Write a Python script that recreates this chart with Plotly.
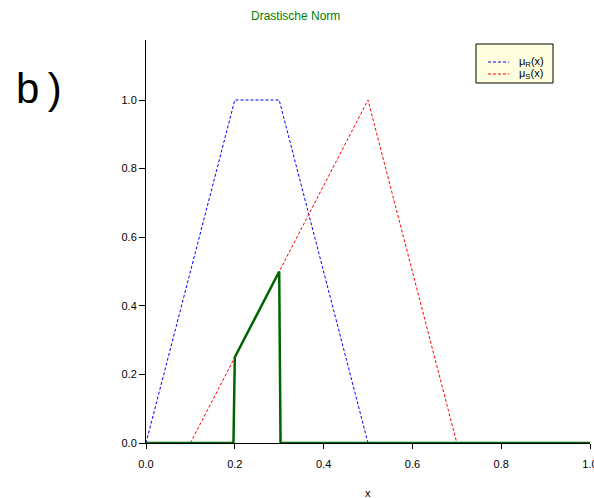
import plotly.graph_objects as go

# Membership functions (piecewise linear breakpoints)
r_x = [0.0, 0.2, 0.3, 0.5]
r_y = [0.0, 1.0, 1.0, 0.0]
s_x = [0.1, 0.5, 0.7]
s_y = [0.0, 1.0, 0.0]
# Drastic t-norm of R and S
d_x = [0.0, 0.197, 0.2, 0.25, 0.3, 0.303, 1.0]
d_y = [0.0, 0.0, 0.25, 0.375, 0.5, 0.0, 0.0]

x_ticks = [0.0, 0.2, 0.4, 0.6, 0.8, 1.0]
y_ticks = [0.0, 0.2, 0.4, 0.6, 0.8, 1.0]

FONT = "Liberation Sans, Arial, sans-serif"

fig = go.Figure()
fig.add_trace(go.Scatter(x=r_x, y=r_y, mode="lines",
                         line=dict(color="blue", width=1, dash="3px,2px"),
                         name="μR(x)", showlegend=False))
fig.add_trace(go.Scatter(x=s_x, y=s_y, mode="lines",
                         line=dict(color="red", width=1, dash="3px,2px"),
                         name="μS(x)", showlegend=False))
fig.add_trace(go.Scatter(x=d_x, y=d_y, mode="lines",
                         line=dict(color="#006400", width=2.5),
                         showlegend=False, cliponaxis=False))

W, H = 594, 498
L, R, T, B = 146, 4, 40, 55
pw, ph = W - L - R, H - T - B


def px(xp):
    return (xp - L) / pw


def py(yp):
    return (H - B - yp) / ph


shapes = [
    dict(type="rect", xref="paper", yref="paper",
         x0=px(476), x1=px(553), y0=py(83), y1=py(44),
         fillcolor="#ffffe0", line=dict(color="black", width=1), layer="above"),
    dict(type="line", xref="paper", yref="paper",
         x0=px(488), x1=px(509), y0=py(62), y1=py(62),
         line=dict(color="blue", width=1, dash="3px,2px"), layer="above"),
    dict(type="line", xref="paper", yref="paper",
         x0=px(488), x1=px(509), y0=py(74), y1=py(74),
         line=dict(color="red", width=1, dash="3px,2px"), layer="above"),
]

annotations = [
    dict(text="μ<sub>R</sub>(x)", xref="paper", yref="paper", x=px(517), y=py(62),
         xanchor="left", yanchor="middle", showarrow=False,
         font=dict(family=FONT, size=11, color="black")),
    dict(text="μ<sub>S</sub>(x)", xref="paper", yref="paper", x=px(517), y=py(74),
         xanchor="left", yanchor="middle", showarrow=False,
         font=dict(family=FONT, size=11, color="black")),
    dict(text="b\u2009)", xref="paper", yref="paper", x=px(14), y=py(88),
         xanchor="left", yanchor="middle", showarrow=False,
         font=dict(family=FONT, size=42, color="black")),
    dict(text="x", xref="paper", yref="paper", x=0.5, y=py(493),
         xanchor="center", yanchor="middle", showarrow=False,
         font=dict(family=FONT, size=11, color="black")),
]

fig.update_layout(
    width=W, height=H,
    margin=dict(l=L, r=R, t=T, b=B, autoexpand=False),
    paper_bgcolor="white", plot_bgcolor="white",
    font=dict(family=FONT, size=11, color="black"),
    title=dict(text="Drastische Norm", x=px(367), xanchor="center",
               y=1 - 16 / H, yanchor="middle",
               font=dict(family=FONT, size=12, color="green")),
    xaxis=dict(range=[0, 1], tickvals=x_ticks, tickformat=".1f",
               showgrid=False, zeroline=False, showline=True,
               linecolor="black", linewidth=1, ticks="outside",
               ticklen=5, tickcolor="black", ticklabeloverflow="allow",
               ticklabelstandoff=6, automargin=False),
    yaxis=dict(range=[0, 1.175], tickvals=y_ticks, tickformat=".1f",
               showgrid=False, zeroline=False, showline=True,
               linecolor="black", linewidth=1, ticks="outside",
               ticklen=6, tickcolor="black", automargin=False),
    shapes=shapes,
    annotations=annotations,
)

fig.write_html("out.html")
